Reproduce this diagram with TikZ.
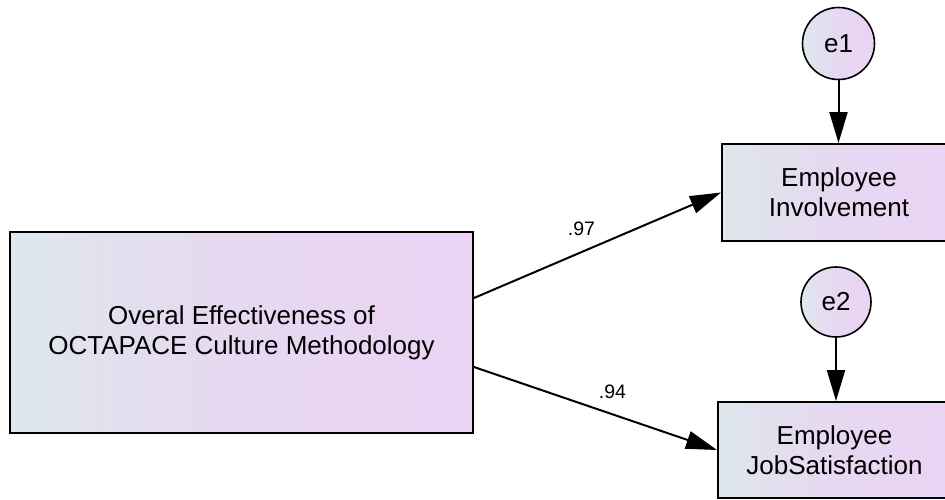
\documentclass[tikz,border=0pt]{standalone}
\usepackage{fontspec}
\setmainfont{Liberation Sans}
\usetikzlibrary{arrows.meta}
\definecolor{fillleft}{RGB}{222,231,236}
\definecolor{fillright}{RGB}{234,211,243}
\begin{document}
\begin{tikzpicture}[x=1pt,y=-1pt,
    var/.style={draw,line width=2pt,left color=fillleft,right color=fillright,
      middle color=fillright!75!fillleft,
      align=center,font=\fontsize{26}{30}\selectfont,inner sep=0pt},
    err/.style={draw,circle,line width=1.6pt,left color=fillleft,right color=fillright,
      middle color=fillright!75!fillleft,
      font=\fontsize{26}{30}\selectfont,inner sep=0pt},
    path/.style={line width=2pt,-{Triangle[length=31pt,width=18pt]}},
    coef/.style={font=\fontsize{19.5}{22}\selectfont}]
  \useasboundingbox (0,0) rectangle (945,499);
  \clip (0,0) rectangle (945,499);
  % observed variables
  \node[var,minimum width=463pt,minimum height=201pt] (OE) at (241.5,332.5)
    {Overal Effectiveness of\\OCTAPACE Culture Methodology};
  \node[var,minimum width=234pt,minimum height=97pt] (EI) at (839,192.5)
    {Employee\\Involvement};
  \node[var,minimum width=233pt,minimum height=96pt] (EJS) at (834.5,450)
    {Employee\\JobSatisfaction};
  % error terms
  \node[err,minimum size=72pt] (e1) at (838.5,43.5) {e1};
  \node[err,minimum size=70pt] (e2) at (836,302) {e2};
  % regression paths
  \draw[path] ([yshift=34.5pt]OE.east) -- (EI.west)
    node[coef,pos=0.435,yshift=23pt] {.97};
  \draw[path] ([yshift=-34.5pt]OE.east) -- (EJS.west)
    node[coef,pos=0.57,yshift=23pt] {.94};
  \draw[path] (e1.south) -- (e1.south |- EI.north);
  \draw[path] (e2.south) -- (e2.south |- EJS.north);
\end{tikzpicture}
\end{document}
